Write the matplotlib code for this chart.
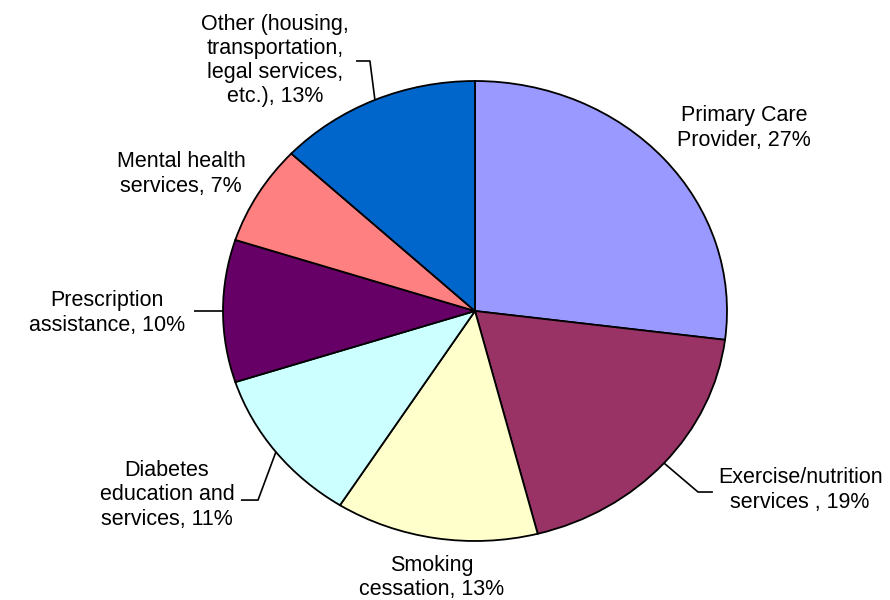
import matplotlib.pyplot as plt
import numpy as np

plt.rcParams['font.family'] = ['Liberation Sans', 'DejaVu Sans']

labels = ["Primary Care\nProvider, 27%",
          "Exercise/nutrition\nservices , 19%",
          "Smoking\ncessation, 13%",
          "Diabetes\neducation and\nservices, 11%",
          "Prescription\nassistance, 10%",
          "Mental health\nservices, 7%",
          "Other (housing,\ntransportation,\nlegal services,\netc.), 13%"]
values = [27, 19, 13, 11, 10, 7, 13]
colors = ["#9999FF", "#993366", "#FFFFCC", "#CCFFFF", "#660066", "#FF8080", "#0066CC"]

# label centres (data units) and leader elbows (None = no leader)
label_pos = [(1.067, 0.796), (1.29, -0.778), (-0.171, -1.157), (-1.222, -0.80),
             (-1.46, -0.009), (-1.167, 0.596), (-0.794, 1.089)]
elbows = [None, [(0.885, -0.787), (0.944, -0.787)], None,
          [(-0.861, -0.822), (-0.929, -0.822)],
          [(-1.115, 0.0)], None,
          [(-0.417, 1.087), (-0.472, 1.087)]]

fig = plt.figure(figsize=(8.9, 6), dpi=100)
ax = fig.add_axes([0, 0, 1, 1])

wedges, _ = ax.pie(values, colors=colors, startangle=90, counterclock=False,
                   wedgeprops=dict(edgecolor="black", linewidth=1.3))
ax.set_aspect('auto')
# pie centre at (475, 311) px, radii 252 x 230 px
ax.set_xlim(-475 / 252, (890 - 475) / 252)
ax.set_ylim(-(600 - 311) / 230, 311 / 230)
ax.axis('off')

for w, lab, pos, elb in zip(wedges, labels, label_pos, elbows):
    ax.text(pos[0], pos[1], lab, ha='center', va='center', fontsize=15.5,
            linespacing=1.2, color='black')
    if elb is not None:
        mid = np.deg2rad((w.theta1 + w.theta2) / 2)
        pts = [(np.cos(mid), np.sin(mid))] + elb
        xs, ys = zip(*pts)
        ax.plot(xs, ys, color='black', lw=1.2, solid_capstyle='butt')

fig.savefig("out.png", dpi=100)
